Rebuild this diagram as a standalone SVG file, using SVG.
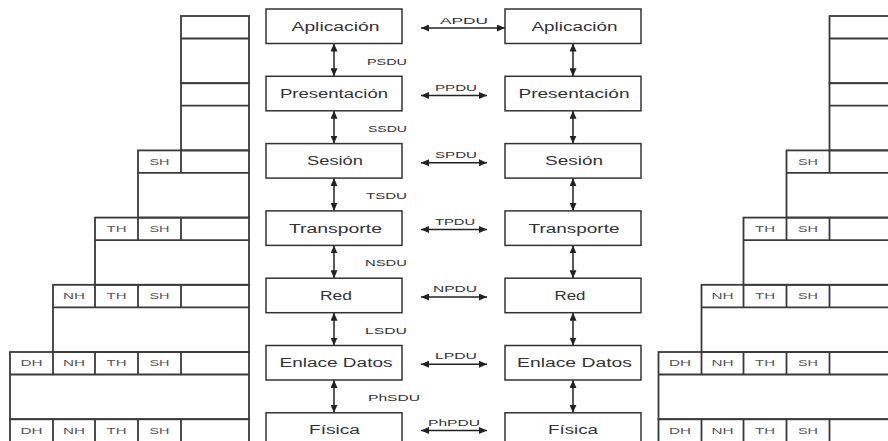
<svg xmlns="http://www.w3.org/2000/svg" width="888" height="441" viewBox="0 0 888 441">
  <style>
    .stk { fill: none; stroke: #3a3a3a; stroke-width: 1.8; }
    .box { fill: #ffffff; stroke: #333333; stroke-width: 1.5; }
    .lay { font-family: "Liberation Sans", Arial, sans-serif; font-size: 12px; fill: #333333; text-anchor: middle; }
    .pdu { font-family: "Liberation Sans", Arial, sans-serif; font-size: 9px; fill: #333333; text-anchor: middle; }
    .sdu { font-family: "Liberation Sans", Arial, sans-serif; font-size: 9px; fill: #333333; }
    .hdr { font-family: "Liberation Sans", Arial, sans-serif; font-size: 8.5px; fill: #555555; text-anchor: middle; }
    .arr { stroke: #222222; stroke-width: 1.5; fill: none; marker-start: url(#ah); marker-end: url(#ah); }
  </style>
  <defs>
    <marker id="ah" markerUnits="userSpaceOnUse" markerWidth="9" markerHeight="7" refX="8" refY="3.5" orient="auto-start-reverse">
      <path d="M0,0 L8,3.5 L0,7 z" fill="#222222"/>
    </marker>
    <!-- encapsulation stack: one frame per layer, headers added from top to bottom -->
    <g id="stack">
      <g id="st-app">
        <rect class="stk" x="181" y="16" width="68" height="67.2"/>
        <line class="stk" x1="181" y1="38.5" x2="249" y2="38.5"/>
      </g>
      <g id="st-pres">
        <rect class="stk" x="181" y="83.2" width="68" height="67.2"/>
        <line class="stk" x1="181" y1="105.7" x2="249" y2="105.7"/>
      </g>
      <g id="st-ses">
        <rect class="stk" x="138" y="150.4" width="111" height="67.2"/>
        <line class="stk" x1="138" y1="172.9" x2="249" y2="172.9"/>
        <line class="stk" x1="181" y1="150.4" x2="181" y2="172.9"/>
        <text class="hdr" x="159.5" y="164.8" textLength="20" lengthAdjust="spacingAndGlyphs">SH</text>
      </g>
      <g id="st-trans">
        <rect class="stk" x="95" y="217.6" width="154" height="67.2"/>
        <line class="stk" x1="95" y1="240.1" x2="249" y2="240.1"/>
        <path class="stk" d="M138,217.6 V240.1 M181,217.6 V240.1"/>
        <text class="hdr" x="116.5" y="232" textLength="20" lengthAdjust="spacingAndGlyphs">TH</text>
        <text class="hdr" x="159.5" y="232" textLength="20" lengthAdjust="spacingAndGlyphs">SH</text>
      </g>
      <g id="st-red">
        <rect class="stk" x="53" y="284.8" width="196" height="67.2"/>
        <line class="stk" x1="53" y1="307.3" x2="249" y2="307.3"/>
        <path class="stk" d="M95,284.8 V307.3 M138,284.8 V307.3 M181,284.8 V307.3"/>
        <text class="hdr" x="74" y="299.2" textLength="22" lengthAdjust="spacingAndGlyphs">NH</text>
        <text class="hdr" x="116.5" y="299.2" textLength="20" lengthAdjust="spacingAndGlyphs">TH</text>
        <text class="hdr" x="159.5" y="299.2" textLength="20" lengthAdjust="spacingAndGlyphs">SH</text>
      </g>
      <g id="st-enl">
        <rect class="stk" x="10" y="352" width="239" height="67.2"/>
        <line class="stk" x1="10" y1="374.5" x2="249" y2="374.5"/>
        <path class="stk" d="M53,352 V374.5 M95,352 V374.5 M138,352 V374.5 M181,352 V374.5"/>
        <text class="hdr" x="31.5" y="366.4" textLength="22" lengthAdjust="spacingAndGlyphs">DH</text>
        <text class="hdr" x="74" y="366.4" textLength="22" lengthAdjust="spacingAndGlyphs">NH</text>
        <text class="hdr" x="116.5" y="366.4" textLength="20" lengthAdjust="spacingAndGlyphs">TH</text>
        <text class="hdr" x="159.5" y="366.4" textLength="20" lengthAdjust="spacingAndGlyphs">SH</text>
      </g>
      <g id="st-fis">
        <rect class="stk" x="10" y="419.2" width="239" height="40"/>
        <path class="stk" d="M53,419.2 V445 M95,419.2 V445 M138,419.2 V445 M181,419.2 V445"/>
        <text class="hdr" x="31.5" y="433.6" textLength="22" lengthAdjust="spacingAndGlyphs">DH</text>
        <text class="hdr" x="74" y="433.6" textLength="22" lengthAdjust="spacingAndGlyphs">NH</text>
        <text class="hdr" x="116.5" y="433.6" textLength="20" lengthAdjust="spacingAndGlyphs">TH</text>
        <text class="hdr" x="159.5" y="433.6" textLength="20" lengthAdjust="spacingAndGlyphs">SH</text>
      </g>
    </g>
  </defs>

  <rect width="888" height="441" fill="#ffffff"/>

  <!-- sender and receiver encapsulation stacks -->
  <use id="stack-left" href="#stack"/>
  <use id="stack-right" href="#stack" transform="translate(648.5,0)"/>

  <!-- connectors: service data units (vertical) and peer protocol data units (horizontal) -->
  <g id="connectors">
    <line class="arr" x1="334" y1="43.5" x2="334" y2="76.3"/>
    <line class="arr" x1="334" y1="110.8" x2="334" y2="143.6"/>
    <line class="arr" x1="334" y1="178.1" x2="334" y2="210.9"/>
    <line class="arr" x1="334" y1="245.4" x2="334" y2="278.2"/>
    <line class="arr" x1="334" y1="312.7" x2="334" y2="345.5"/>
    <line class="arr" x1="334" y1="380" x2="334" y2="412.8"/>

    <line class="arr" x1="573" y1="43.5" x2="573" y2="76.3"/>
    <line class="arr" x1="573" y1="110.8" x2="573" y2="143.6"/>
    <line class="arr" x1="573" y1="178.1" x2="573" y2="210.9"/>
    <line class="arr" x1="573" y1="245.4" x2="573" y2="278.2"/>
    <line class="arr" x1="573" y1="312.7" x2="573" y2="345.5"/>
    <line class="arr" x1="573" y1="380" x2="573" y2="412.8"/>

    <line class="arr" x1="421" y1="28" x2="505" y2="28"/>
    <line class="arr" x1="421" y1="95.5" x2="487" y2="95.5"/>
    <line class="arr" x1="421" y1="162.8" x2="487" y2="162.8"/>
    <line class="arr" x1="421" y1="229.5" x2="487" y2="229.5"/>
    <line class="arr" x1="421" y1="297" x2="487" y2="297"/>
    <line class="arr" x1="421" y1="364.2" x2="487" y2="364.2"/>
    <line class="arr" x1="421" y1="430.5" x2="487" y2="430.5"/>

    <text class="pdu" x="464" y="24" font-size="10" textLength="48" lengthAdjust="spacingAndGlyphs">APDU</text>
    <text class="pdu" x="456" y="90.5" textLength="42" lengthAdjust="spacingAndGlyphs">PPDU</text>
    <text class="pdu" x="456" y="157.8" textLength="42" lengthAdjust="spacingAndGlyphs">SPDU</text>
    <text class="pdu" x="455" y="224.5" textLength="40" lengthAdjust="spacingAndGlyphs">TPDU</text>
    <text class="pdu" x="455" y="292" textLength="44" lengthAdjust="spacingAndGlyphs">NPDU</text>
    <text class="pdu" x="456" y="359.2" textLength="42" lengthAdjust="spacingAndGlyphs">LPDU</text>
    <text class="pdu" x="454" y="425.5" textLength="52" lengthAdjust="spacingAndGlyphs">PhPDU</text>

    <text class="sdu" x="367" y="64.6" textLength="40" lengthAdjust="spacingAndGlyphs">PSDU</text>
    <text class="sdu" x="368" y="131.8" textLength="39" lengthAdjust="spacingAndGlyphs">SSDU</text>
    <text class="sdu" x="366" y="199" textLength="41" lengthAdjust="spacingAndGlyphs">TSDU</text>
    <text class="sdu" x="365" y="266.3" textLength="42" lengthAdjust="spacingAndGlyphs">NSDU</text>
    <text class="sdu" x="365" y="333.6" textLength="42" lengthAdjust="spacingAndGlyphs">LSDU</text>
    <text class="sdu" x="368" y="400.8" textLength="52" lengthAdjust="spacingAndGlyphs">PhSDU</text>
  </g>

  <!-- layers of the sending system -->
  <g id="a-aplicacion"><rect class="box" x="266" y="9" width="136" height="34.5"/><text class="lay" x="335.5" y="30.6" textLength="88" lengthAdjust="spacingAndGlyphs">Aplicación</text></g>
  <g id="a-presentacion"><rect class="box" x="266" y="76.3" width="136" height="34.5"/><text class="lay" x="334" y="97.9" textLength="108" lengthAdjust="spacingAndGlyphs">Presentación</text></g>
  <g id="a-sesion"><rect class="box" x="266" y="143.6" width="136" height="34.5"/><text class="lay" x="335" y="165.2" textLength="56" lengthAdjust="spacingAndGlyphs">Sesión</text></g>
  <g id="a-transporte"><rect class="box" x="266" y="210.9" width="136" height="34.5"/><text class="lay" x="335.5" y="232.5" textLength="93" lengthAdjust="spacingAndGlyphs">Transporte</text></g>
  <g id="a-red"><rect class="box" x="266" y="278.2" width="136" height="34.5"/><text class="lay" x="336" y="299.8" textLength="32" lengthAdjust="spacingAndGlyphs">Red</text></g>
  <g id="a-enlace"><rect class="box" x="266" y="345.5" width="136" height="34.5"/><text class="lay" x="336" y="367.1" textLength="113" lengthAdjust="spacingAndGlyphs">Enlace Datos</text></g>
  <g id="a-fisica"><rect class="box" x="266" y="412.8" width="136" height="40"/><text class="lay" x="334.5" y="434.4" textLength="51" lengthAdjust="spacingAndGlyphs">Física</text></g>

  <!-- layers of the receiving system -->
  <g id="b-aplicacion"><rect class="box" x="505" y="9" width="136" height="34.5"/><text class="lay" x="574.5" y="30.6" textLength="86" lengthAdjust="spacingAndGlyphs">Aplicación</text></g>
  <g id="b-presentacion"><rect class="box" x="505" y="76.3" width="136" height="34.5"/><text class="lay" x="574" y="97.9" textLength="111" lengthAdjust="spacingAndGlyphs">Presentación</text></g>
  <g id="b-sesion"><rect class="box" x="505" y="143.6" width="136" height="34.5"/><text class="lay" x="574" y="165.2" textLength="58" lengthAdjust="spacingAndGlyphs">Sesión</text></g>
  <g id="b-transporte"><rect class="box" x="505" y="210.9" width="136" height="34.5"/><text class="lay" x="574" y="232.5" textLength="91" lengthAdjust="spacingAndGlyphs">Transporte</text></g>
  <g id="b-red"><rect class="box" x="505" y="278.2" width="136" height="34.5"/><text class="lay" x="570" y="299.8" textLength="31" lengthAdjust="spacingAndGlyphs">Red</text></g>
  <g id="b-enlace"><rect class="box" x="505" y="345.5" width="136" height="34.5"/><text class="lay" x="574.5" y="367.1" textLength="115" lengthAdjust="spacingAndGlyphs">Enlace Datos</text></g>
  <g id="b-fisica"><rect class="box" x="505" y="412.8" width="136" height="40"/><text class="lay" x="573" y="434.4" textLength="50" lengthAdjust="spacingAndGlyphs">Física</text></g>
</svg>
